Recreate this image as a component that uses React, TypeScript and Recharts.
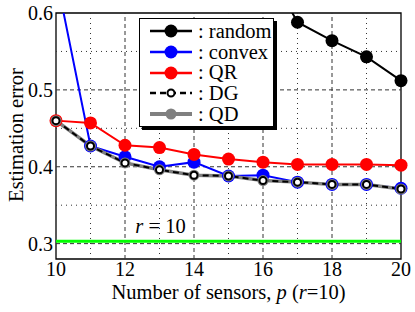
import React from 'react';
import {
  ComposedChart,
  Line,
  XAxis,
  YAxis,
  ReferenceLine,
  ReferenceArea,
} from 'recharts';

const FONT = '"Liberation Serif", "Times New Roman", serif';

const sensors = [10, 11, 12, 13, 14, 15, 16, 17, 18, 19, 20];
const randomErr = [0.95, 0.88, 0.82, 0.77, 0.73, 0.7, 0.669, 0.588, 0.564, 0.543, 0.512];
const convexErr = [0.649, 0.427, 0.413, 0.4, 0.406, 0.388, 0.389, 0.38, 0.377, 0.377, 0.372];
const qrErr = [0.46, 0.457, 0.428, 0.425, 0.416, 0.41, 0.406, 0.403, 0.403, 0.403, 0.402];
const dgErr = [0.46, 0.427, 0.405, 0.396, 0.389, 0.388, 0.382, 0.38, 0.377, 0.377, 0.371];
const qdErr = [0.46, 0.427, 0.405, 0.396, 0.389, 0.388, 0.382, 0.38, 0.377, 0.377, 0.371];
const boundErr = 0.303;

const xTicks = [10, 12, 14, 16, 18, 20];
const yTicks = [0.3, 0.4, 0.5, 0.6];
const xMajorGrid = [12, 14, 16, 18];
const xMinorGrid = [11, 13, 15, 17, 19];
const yMajorGrid = [0.3, 0.4, 0.5];
const yMinorGrid = [0.35, 0.45, 0.55];

const data = sensors.map((p, i) => ({
  p,
  random: randomErr[i],
  convex: convexErr[i],
  QR: qrErr[i],
  DG: dgErr[i],
  QD: qdErr[i],
}));

type SeriesStyle = {
  key: string;
  stroke: string;
  width: number;
  dash?: string;
  r: number;
  dotFill: string;
  dotStroke: string;
  dotWidth: number;
};

// draw order matters: DG sits on top of QD, which sits on top of convex
const series: SeriesStyle[] = [
  { key: 'random', stroke: '#000000', width: 2, r: 6.5, dotFill: '#000000', dotStroke: '#000000', dotWidth: 0 },
  { key: 'convex', stroke: '#0000ff', width: 2, r: 6.5, dotFill: '#0000ff', dotStroke: '#0000ff', dotWidth: 0 },
  { key: 'QR', stroke: '#ff0000', width: 2, r: 6.5, dotFill: '#ff0000', dotStroke: '#ff0000', dotWidth: 0 },
  { key: 'QD', stroke: '#808080', width: 3.5, r: 5.5, dotFill: '#808080', dotStroke: '#808080', dotWidth: 0 },
  { key: 'DG', stroke: '#000000', width: 2, dash: '6 4', r: 3.5, dotFill: '#ffffff', dotStroke: '#000000', dotWidth: 2 },
];

const legendOrder = ['random', 'convex', 'QR', 'DG', 'QD'];

const LegendBox = () => (
  <div
    style={{
      position: 'absolute',
      left: 139,
      top: 18,
      background: '#fff',
      border: '1px solid #000',
      boxShadow: '3px 3px 0 #000',
      width: 133,
      padding: '2px 0',
      fontFamily: FONT,
      fontSize: 20.5,
      lineHeight: '20.7px',
    }}
  >
    {legendOrder.map((k) => {
      const s = series.find((x) => x.key === k)!;
      return (
        <div key={k} style={{ display: 'flex', alignItems: 'center', height: 20.7 }}>
          <svg width={56} height={20} style={{ marginLeft: 8 }}>
            <line x1={2} x2={44} y1={10} y2={10} stroke={s.stroke} strokeWidth={s.width + 0.5} strokeDasharray={s.dash} />
            <circle cx={23} cy={10} r={s.r} fill={s.dotFill} stroke={s.dotStroke} strokeWidth={s.dotWidth} />
          </svg>
          <span style={{ marginLeft: -6, whiteSpace: 'nowrap' }}>: {k}</span>
        </div>
      );
    })}
  </div>
);

const XLabel = () => (
  <text x={228.5} y={299} textAnchor="middle" fontFamily={FONT} fontSize={20.5} fill="#000">
    Number of sensors, <tspan fontStyle="italic">p</tspan> (<tspan fontStyle="italic">r</tspan>=10)
  </text>
);

const YLabel = () => (
  <text
    x={0}
    y={0}
    transform="translate(23,135) rotate(-90)"
    textAnchor="middle"
    fontFamily={FONT}
    fontSize={20.5}
    fill="#000"
  >
    Estimation error
  </text>
);

const BoundLabel = (props: any) => {
  const vb = props.viewBox || { x: 56, y: 241 };
  return (
    <text x={vb.x + 104.5} y={vb.y - 8.5} textAnchor="middle" fontFamily={FONT} fontSize={20.5} fill="#000">
      <tspan fontStyle="italic">r</tspan> = 10
    </text>
  );
};

export default function App() {
  return (
    <div style={{ position: 'absolute', left: 0, top: 0, width: 415, height: 312, background: '#fff' }}>
      <ComposedChart
        width={415}
        height={312}
        data={data}
        margin={{ top: 13, right: 14, bottom: 0, left: 0 }}
      >
        <XAxis
          dataKey="p"
          type="number"
          domain={[10, 20]}
          ticks={xTicks}
          height={53}
          axisLine={false}
          tickLine={false}
          tickSize={0}
          tickMargin={3}
          tick={{ fontSize: 20, fontFamily: FONT, fill: '#000' }}
          label={<XLabel />}
        />
        <YAxis
          type="number"
          domain={[0.28, 0.6]}
          allowDataOverflow
          ticks={yTicks}
          width={56}
          axisLine={false}
          tickLine={false}
          tickSize={0}
          tickMargin={3}
          tick={{ fontSize: 20, fontFamily: FONT, fill: '#000' }}
          tickFormatter={(v: number) => v.toFixed(1)}
          label={<YLabel />}
        />
        {xMinorGrid.map((v) => (
          <ReferenceLine key={`xm${v}`} x={v} stroke="#333" strokeWidth={1} strokeDasharray="1 4" />
        ))}
        {yMinorGrid.map((v) => (
          <ReferenceLine key={`ym${v}`} y={v} stroke="#333" strokeWidth={1} strokeDasharray="1 4" />
        ))}
        {xMajorGrid.map((v) => (
          <ReferenceLine key={`xM${v}`} x={v} stroke="#333" strokeWidth={1} strokeDasharray="4 3" />
        ))}
        {yMajorGrid.map((v) => (
          <ReferenceLine key={`yM${v}`} y={v} stroke="#333" strokeWidth={1} strokeDasharray="4 3" />
        ))}
        <ReferenceLine y={boundErr} stroke="#00ff00" strokeWidth={3} label={<BoundLabel />} />
        {series.map((s) => (
          <Line
            key={s.key}
            dataKey={s.key}
            type="linear"
            stroke={s.stroke}
            strokeWidth={s.width}
            strokeDasharray={s.dash}
            dot={{ r: s.r, fill: s.dotFill, stroke: s.dotStroke, strokeWidth: s.dotWidth, strokeDasharray: '' }}
            activeDot={false}
            isAnimationActive={false}
          />
        ))}
        <ReferenceArea x1={10} x2={20} y1={0.28} y2={0.6} fill="none" stroke="#000" strokeWidth={1.3} />
      </ComposedChart>
      <LegendBox />
    </div>
  );
}
